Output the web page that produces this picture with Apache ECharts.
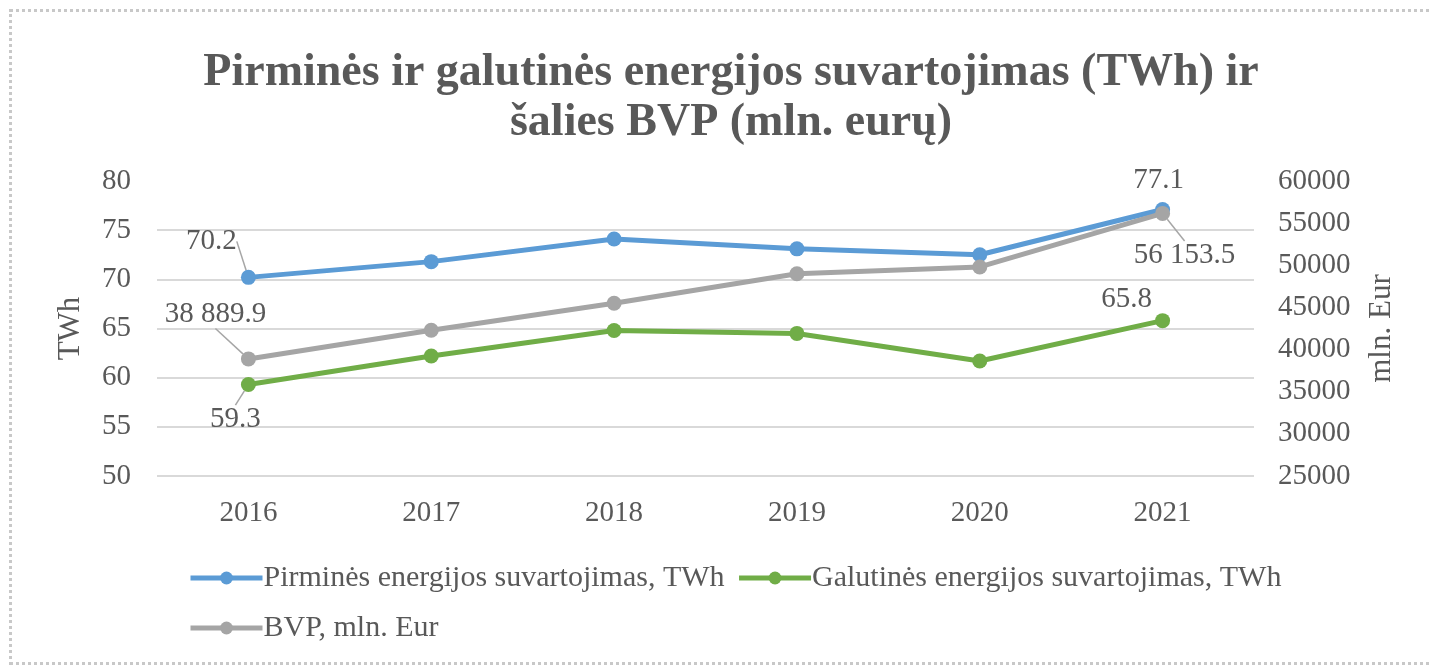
<!DOCTYPE html>
<html>
<head>
<meta charset="utf-8">
<script src="https://cdn.jsdelivr.net/npm/echarts@6/dist/echarts.min.js"></script>
<style>
  html, body { margin: 0; padding: 0; background: #fff; }
  #frame {
    position: absolute; left: 9px; top: 9px; width: 1440px; height: 656px;
    border: 3px dotted #c8c8c8; box-sizing: border-box;
  }
  #chart { position: absolute; left: 0; top: 0; width: 1432px; height: 670px; }
</style>
</head>
<body>
<div id="frame"></div>
<div id="chart"></div>
<script>
// metai
const years = ['2016', '2017', '2018', '2019', '2020', '2021']
// TWh
const primary = [70.2, 71.8, 74.1, 73.1, 72.5, 77.1]
const finalUse = [59.3, 62.2, 64.8, 64.5, 61.7, 65.8]
// mln. Eur
const gdp = [38889.9, 42300, 45500, 49000, 49800, 56153.5]
// kuriems taskams rodoma reiksme
const labeledPoints = [0, 5]

const FONT = "'Liberation Serif', 'Times New Roman', serif"
const TXT = '#595959'

// etikeciu poslinkiai (serija -> taskas)
const labelShift = {
  0: { 0: { dx: -37, dy: -9, pos: 'top', guide: true }, 5: { dx: -4, dy: -2, pos: 'top', guide: false } },
  1: { 0: { dx: -13, dy: 8, pos: 'bottom', guide: true }, 5: { dx: -36, dy: 6, pos: 'top', guide: false } },
  2: { 0: { dx: -33, dy: -18, pos: 'top', guide: true }, 5: { dx: 22, dy: 15, pos: 'bottom', guide: true } }
}

function fmtNum(v) {
  let parts = v.toFixed(1).split('.')
  return parts[0].replace(/\B(?=(\d{3})+(?!\d))/g, ' ') + '.' + parts[1]
}

function buildData(values, seriesIndex) {
  return values.map((v, i) => {
    if (labeledPoints.indexOf(i) < 0) return v
    let s = labelShift[seriesIndex][i]
    return {
      value: v,
      label: { show: true, position: s.pos },
      labelLine: { show: s.guide }
    }
  })
}

function makeSeries(name, values, color, seriesIndex, yAxisIndex) {
  return {
    name: name,
    type: 'line',
    yAxisIndex: yAxisIndex,
    data: buildData(values, seriesIndex),
    symbol: 'circle',
    symbolSize: 15,
    lineStyle: { width: 5, color: color },
    itemStyle: { color: color },
    label: {
      show: false,
      fontFamily: FONT,
      fontSize: 29,
      color: TXT,
      distance: 5,
      formatter: p => seriesIndex === 2 ? fmtNum(p.value) : p.value.toFixed(1)
    },
    labelLine: { lineStyle: { color: '#a6a6a6', width: 1.5 } },
    labelLayout: function (params) {
      let s = labelShift[seriesIndex][params.dataIndex]
      if (!s) return {}
      return { dx: s.dx, dy: s.dy }
    }
  }
}

const chart = echarts.init(document.getElementById('chart'), null, { renderer: 'canvas' })
chart.setOption({
  backgroundColor: 'transparent',
  animation: false,
  textStyle: { fontFamily: FONT },
  title: {
    text: 'Pirminės ir galutinės energijos suvartojimas (TWh) ir\nšalies BVP (mln. eurų)',
    left: 726,
    textAlign: 'center',
    top: 43,
    textStyle: { fontFamily: FONT, fontSize: 46, fontWeight: 'bold', color: TXT, lineHeight: 50 }
  },
  legend: {
    left: 188,
    top: 559,
    padding: 0,
    width: 1150,
    itemWidth: 72,
    itemHeight: 16,
    itemGap: 12,
    data: ['Pirminės energijos suvartojimas, TWh', 'Galutinės energijos suvartojimas, TWh', 'BVP, mln. Eur'],
    lineStyle: { width: 5 },
    textStyle: { fontFamily: FONT, fontSize: 30, color: TXT, lineHeight: 38, padding: [0, 0, 0, -4] }
  },
  grid: { left: 157, right: 178, top: 181, bottom: 194 },
  xAxis: {
    type: 'category',
    data: years,
    boundaryGap: true,
    axisLine: { show: false },
    axisTick: { show: false },
    axisLabel: { fontFamily: FONT, fontSize: 29, color: TXT, margin: 23 }
  },
  yAxis: [{
    type: 'value',
    min: 50,
    max: 80,
    interval: 5,
    name: 'TWh',
    nameLocation: 'middle',
    nameRotate: 90,
    nameGap: 71,
    nameTextStyle: { fontFamily: FONT, fontSize: 31, color: TXT },
    axisLine: { show: false },
    axisTick: { show: false },
    axisLabel: { fontFamily: FONT, fontSize: 29, color: TXT, margin: 26 },
    splitLine: {
      lineStyle: { width: 2, color: ['#d9d9d9', '#d9d9d9', '#d9d9d9', '#d9d9d9', '#d9d9d9', '#d9d9d9', 'rgba(0,0,0,0)'] }
    }
  }, {
    type: 'value',
    min: 25000,
    max: 60000,
    interval: 5000,
    name: 'mln. Eur',
    nameLocation: 'middle',
    nameRotate: 90,
    nameGap: 112,
    nameTextStyle: { fontFamily: FONT, fontSize: 31, color: TXT },
    axisLine: { show: false },
    axisTick: { show: false },
    splitLine: { show: false },
    axisLabel: { fontFamily: FONT, fontSize: 29, color: TXT, margin: 24, formatter: v => String(v) }
  }],
  series: [
    makeSeries('Pirminės energijos suvartojimas, TWh', primary, '#5B9BD5', 0, 0),
    makeSeries('Galutinės energijos suvartojimas, TWh', finalUse, '#70AD47', 1, 0),
    makeSeries('BVP, mln. Eur', gdp, '#A5A5A5', 2, 1)
  ]
})
</script>
</body>
</html>
